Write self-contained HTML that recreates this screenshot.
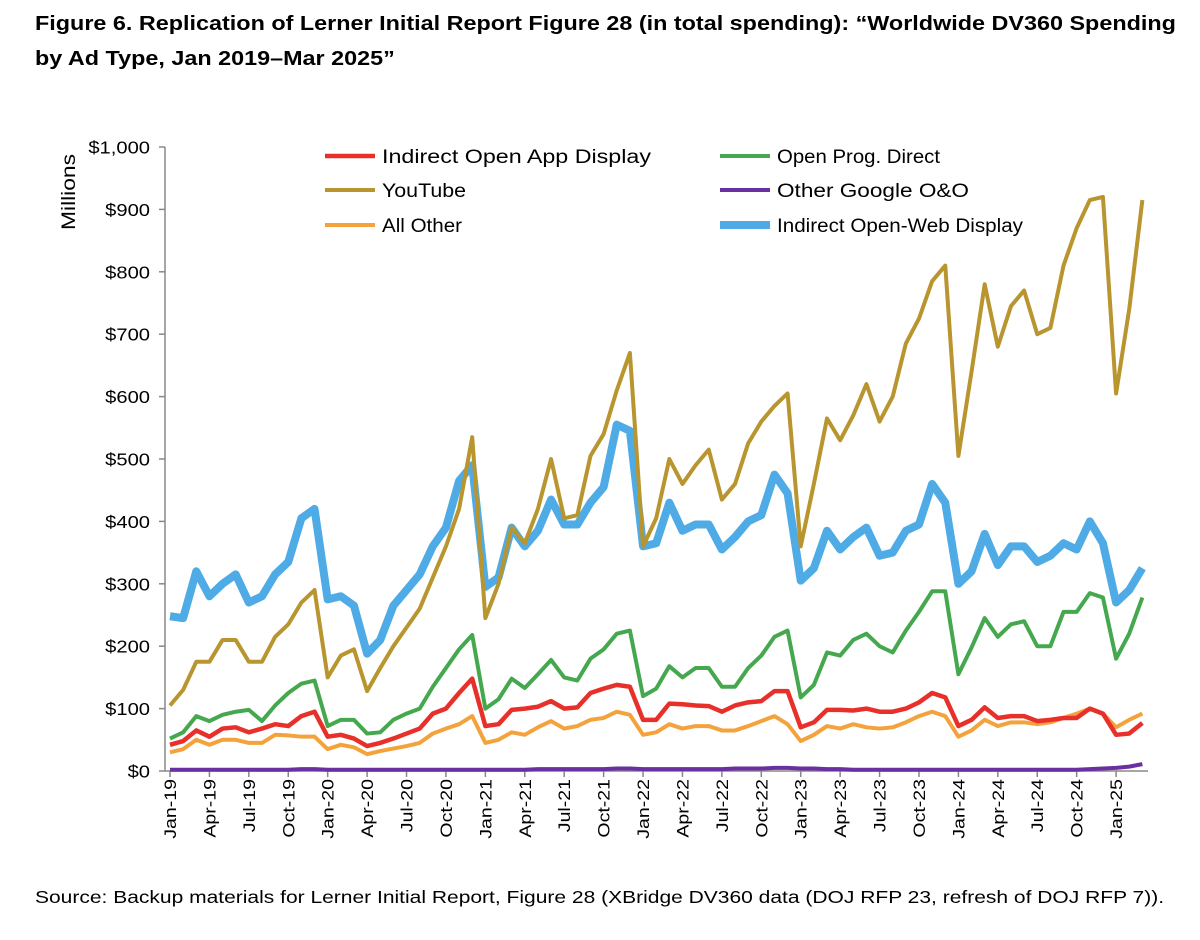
<!DOCTYPE html>
<html><head><meta charset="utf-8"><style>
body{margin:0;background:#fff;font-family:"Liberation Sans",Arial,sans-serif;}
#wrap{position:relative;width:1200px;height:940px;}
h1{position:absolute;left:35px;top:6px;margin:0;font-size:20.5px;font-weight:bold;line-height:35px;color:#000;transform:scaleX(1.14);transform-origin:left top;white-space:nowrap;}
#src{position:absolute;left:35px;top:887px;font-size:17.5px;color:#000;transform:scaleX(1.2);transform-origin:left top;white-space:nowrap;}
</style></head><body>
<div id="wrap">
<h1>Figure 6. Replication of Lerner Initial Report Figure 28 (in total spending): “Worldwide DV360 Spending<br>by Ad Type, Jan 2019–Mar 2025”</h1>
<svg id="chart" width="1200" height="940" style="position:absolute;left:0;top:0"></svg>
<div id="src">Source: Backup materials for Lerner Initial Report, Figure 28 (XBridge DV360 data (DOJ RFP 23, refresh of DOJ RFP 7)).</div>
</div>
<script>
const yTicks=[0,100,200,300,400,500,600,700,800,900,1000];
const yTickLabels=["$0","$100","$200","$300","$400","$500","$600","$700","$800","$900","$1,000"];
const xTickLabels=["Jan-19","Apr-19","Jul-19","Oct-19","Jan-20","Apr-20","Jul-20","Oct-20","Jan-21","Apr-21","Jul-21","Oct-21","Jan-22","Apr-22","Jul-22","Oct-22","Jan-23","Apr-23","Jul-23","Oct-23","Jan-24","Apr-24","Jul-24","Oct-24","Jan-25"];
const youtube=[105,130,175,175,210,210,175,175,215,235,270,290,150,185,195,128,165,200,230,260,310,360,420,535,245,300,390,365,420,500,405,410,505,540,610,670,360,405,500,460,490,515,435,460,525,560,585,605,360,460,565,530,570,620,560,600,685,725,785,810,505,640,780,680,745,770,700,710,810,870,915,920,605,740,915];
const openWeb=[248,245,320,280,300,315,270,280,315,335,405,420,275,280,265,188,210,265,290,315,360,390,465,490,295,310,390,360,385,435,395,395,430,455,555,545,360,365,430,385,395,395,355,375,400,410,475,445,305,325,385,355,375,390,345,350,385,395,460,430,300,320,380,330,360,360,335,345,365,355,400,365,270,290,325];
const openProg=[52,62,88,80,90,95,98,80,105,125,140,145,72,82,82,60,62,82,92,100,135,165,195,218,100,115,148,133,155,178,150,145,180,195,220,225,120,132,168,150,165,165,135,135,165,185,215,225,118,138,190,185,210,220,200,190,225,255,288,288,155,198,245,215,235,240,200,200,255,255,285,278,180,220,278];
const openApp=[42,48,65,55,68,70,62,68,75,72,88,95,55,58,52,40,45,52,60,68,92,100,125,148,72,75,98,100,103,112,100,102,125,132,138,135,82,82,108,107,105,104,95,105,110,112,128,128,70,78,98,98,97,100,95,95,100,110,125,118,72,82,102,85,88,88,80,82,85,85,100,92,58,60,77];
const allOther=[30,35,50,42,50,50,45,45,58,57,55,55,35,42,38,27,32,36,40,45,60,68,75,88,45,50,62,58,70,80,68,72,82,85,95,90,58,62,75,68,72,72,65,65,72,80,88,75,48,58,72,68,75,70,68,70,78,88,95,88,55,65,82,72,78,78,75,78,85,92,100,92,70,82,92];
const otherGoogle=[2,2,2,2,2,2,2,2,2,2,3,3,2,2,2,2,2,2,2,2,2,2,2,2,2,2,2,2,3,3,3,3,3,3,4,4,3,3,3,3,3,3,3,4,4,4,5,5,4,4,3,3,2,2,2,2,2,2,2,2,2,2,2,2,2,2,2,2,2,2,3,4,5,7,11];

const NS="http://www.w3.org/2000/svg",svg=document.getElementById('chart');
const X0=170,DX=13.14,Y0=771,YS=0.624;
const xs=i=>X0+i*DX, ys=v=>Y0-v*YS;
function mk(t,a){const e=document.createElementNS(NS,t);for(const k in a)e.setAttribute(k,a[k]);svg.appendChild(e);return e;}
let ax=mk('line',{x1:165,y1:ys(1000),x2:165,y2:Y0,stroke:'#888','stroke-width':1.5});


let xa=mk('line',{x1:165,y1:Y0,x2:1148,y2:Y0,stroke:'#888','stroke-width':1.5});


yTicks.forEach((v,i)=>{
 mk('line',{x1:159,y1:ys(v),x2:165,y2:ys(v),stroke:'#888','stroke-width':1.5});
 const t=mk('text',{x:0,y:0,'text-anchor':'end','font-size':18,fill:'#000',transform:`translate(150,${ys(v)+6.5}) scale(1.12,1)`});
 t.textContent=yTickLabels[i];
 
 
});
xTickLabels.forEach((l,i)=>{
 const x=xs(i*3);
 mk('line',{x1:x,y1:Y0,x2:x,y2:Y0+6,stroke:'#888','stroke-width':1.5});
 const t=mk('text',{x:0,y:0,'text-anchor':'end','font-size':17,fill:'#000',transform:`translate(${x+6},${Y0+8}) rotate(-90) scale(1.15,1)`});
 t.textContent=l;
 
 
});
const yt=mk('text',{x:0,y:0,'text-anchor':'middle','font-size':19,fill:'#000',transform:'translate(75,192) rotate(-90) scale(1.2,1)'});
yt.textContent='Millions';


const series=[
 {d:allOther,c:'#f4a23b',w:4,n:'series-all-other'},
 {d:openApp,c:'#e8302a',w:4.5,n:'series-indirect-open-app'},
 {d:openProg,c:'#45a84f',w:4,n:'series-open-prog-direct'},
 {d:openWeb,c:'#4eabe5',w:8,n:'series-indirect-open-web'},
 {d:youtube,c:'#b8952e',w:4,n:'series-youtube'},
 {d:otherGoogle,c:'#6a2fa0',w:4,n:'series-other-google'}
];
series.forEach(s=>{
 const p=mk('polyline',{points:s.d.map((v,i)=>xs(i)+','+ys(v)).join(' '),fill:'none',stroke:s.c,'stroke-width':s.w,'stroke-linejoin':'round'});
 
 
});
const legend=[
 ['Indirect Open App Display','#e8302a',4.5,325,156,269],['Open Prog. Direct','#45a84f',4,720,156,163],
 ['YouTube','#b8952e',4,325,190,84],['Other Google O&O','#6a2fa0',4,720,190,192],
 ['All Other','#f4a23b',4,325,225,80],['Indirect Open-Web Display','#4eabe5',8,720,225,246]];
legend.forEach(l=>{
 const g=mk('line',{x1:l[3],y1:l[4],x2:l[3]+50,y2:l[4],stroke:l[1],'stroke-width':l[2]});
 
 
 const t=mk('text',{x:l[3]+57,y:l[4]+7,'font-size':19,fill:'#000',textLength:l[5],lengthAdjust:'spacingAndGlyphs'});
 t.textContent=l[0];
 
 
});
</script>
</body></html>
